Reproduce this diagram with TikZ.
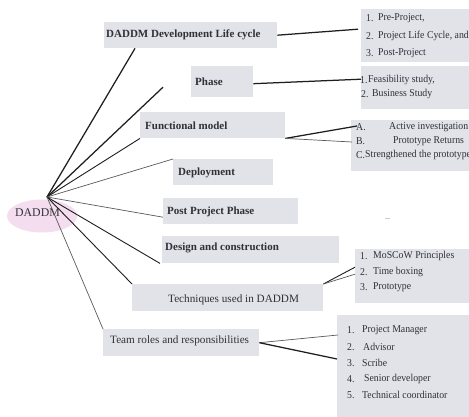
\documentclass[tikz,border=0pt]{standalone}
\usepackage{fontspec}
\setmainfont{Liberation Serif}
\newfontfamily\listfont{Liberation Serif}[FakeStretch=0.93]
\usetikzlibrary{calc,shapes.geometric}
\definecolor{boxgray}{RGB}{226,227,232}
\definecolor{hubpink}{RGB}{243,221,238}
\definecolor{txtgray}{RGB}{48,48,54}
\definecolor{linedark}{RGB}{30,30,30}
\definecolor{linegray}{RGB}{90,90,90}
\tikzset{
  box/.style={fill=boxgray, draw=none, inner sep=0pt, anchor=north west},
  ltext/.style={anchor=west, inner sep=0pt, text=txtgray, font=\fontsize{11}{13}\selectfont\bfseries},
  rtext/.style={anchor=west, inner sep=0pt, text=txtgray, font=\fontsize{11.2}{13}\selectfont},
  itext/.style={anchor=west, inner sep=0pt, text=txtgray, font=\listfont\fontsize{10.5}{12}\selectfont},
  conn/.style={draw=linedark, line width=0.9pt},
  thick conn/.style={draw=linedark, line width=1.25pt},
  thin conn/.style={draw=linegray, line width=0.7pt}
}
\begin{document}
\begin{tikzpicture}[x=1pt,y=-1pt]
\useasboundingbox (0,0) rectangle (469,417);
\clip (0,0) rectangle (469,417);
\fill[white] (0,0) rectangle (469,417);

% hub
\node[ellipse, fill=hubpink, minimum width=70pt, minimum height=33pt, inner sep=0pt] (root) at (42,216) {};
\node[rtext, font=\fontsize{11.8}{13}\selectfont] (roottxt) at (15,213) {DADDM};
\coordinate (hub) at (47,197);

% left boxes
\node[box, minimum width=173pt, minimum height=26pt] (dev) at (104,22) {};
\node[ltext] (devt) at (106,35) {DADDM Development Life cycle};
\node[box, minimum width=62pt, minimum height=31pt] (phase) at (191,66) {};
\node[ltext] (phaset) at (195,82) {Phase};
\node[box, minimum width=145pt, minimum height=26pt] (fm) at (140,112) {};
\node[ltext] (fmt) at (145,126) {Functional model};
\node[box, minimum width=100pt, minimum height=26pt] (dep) at (173,159) {};
\node[ltext] (dept) at (178,172.5) {Deployment};
\node[box, minimum width=135pt, minimum height=26pt] (pp) at (163,198) {};
\node[ltext] (ppt) at (167,212) {Post Project Phase};
\node[box, minimum width=177pt, minimum height=27pt] (ds) at (162,236) {};
\node[ltext] (dst) at (165,248) {Design and construction};
\node[box, minimum width=191pt, minimum height=27pt] (tech) at (132,284) {};
\node[rtext] (techt) at (168,300) {Techniques used in DADDM};
\node[box, minimum width=156pt, minimum height=27pt] (team) at (103,329) {};
\node[rtext] (teamt) at (110,341) {Team roles and responsibilities};

% right boxes
\node[box, minimum width=120pt, minimum height=53pt] (l1) at (361,9) {};
\node[itext] (l1a) at (366,18) {1.}; \node[itext] (l1at) at (378,18) {Pre-Project,};
\node[itext] (l1b) at (366,36) {2.}; \node[itext] (l1bt) at (378,36) {Project Life Cycle, and};
\node[itext] (l1c) at (366,53) {3.}; \node[itext] (l1ct) at (378,53) {Post-Project};

\node[box, minimum width=120pt, minimum height=43pt] (l2) at (361,66) {};
\node[itext] (l2a) at (360,80) {1.}; \node[itext] (l2at) at (368,80) {Feasibility study,};
\node[itext] (l2b) at (361,94) {2.}; \node[itext] (l2bt) at (372,94) {Business Study};

\node[box, minimum width=130pt, minimum height=51pt] (l3) at (351,120) {};
\node[itext] (l3a) at (356,127) {A.}; \node[itext] (l3at) at (389,127) {Active investigation};
\node[itext] (l3b) at (356,141) {B.}; \node[itext] (l3bt) at (393,141) {Prototype Returns};
\node[itext] (l3c) at (356,155) {C.}; \node[itext] (l3ct) at (365,155) {Strengthened the prototype};

\node[box, minimum width=125pt, minimum height=54pt] (l4) at (355,249) {};
\node[itext] (l4a) at (360,256) {1.}; \node[itext] (l4at) at (373,256) {MoSCoW Principles};
\node[itext] (l4b) at (360,272) {2.}; \node[itext] (l4bt) at (373,272) {Time boxing};
\node[itext] (l4c) at (360,287) {3.}; \node[itext] (l4ct) at (373,287) {Prototype};

\node[box, minimum width=140pt, minimum height=110pt] (l5) at (337,315) {};
\node[itext] (l5a) at (347,330) {1.}; \node[itext] (l5at) at (362,330) {Project Manager};
\node[itext] (l5b) at (347,347) {2.}; \node[itext] (l5bt) at (363,347) {Advisor};
\node[itext] (l5c) at (347,363) {3.}; \node[itext] (l5ct) at (362,363) {Scribe};
\node[itext] (l5d) at (347,379) {4.}; \node[itext] (l5dt) at (364,379) {Senior developer};
\node[itext] (l5e) at (347,395) {5.}; \node[itext] (l5et) at (362,395) {Technical coordinator};

% hub connectors
\draw[thick conn] (hub) -- ([xshift=31pt]dev.south west);
\draw[thick conn] (hub) -- ([xshift=-28pt,yshift=-5.5pt]phase.west);
\draw[conn] (hub) -- (fm.south west);
\draw[thin conn] (hub) -- (dep.north west);
\draw[thin conn] (hub) -- ([yshift=-6pt]pp.west);
\draw[conn] (hub) -- ([xshift=-2pt]ds.south west);
\draw[conn] (hub) -- (tech.north west);
\draw[thin conn] (hub) -- (team.north west);

% right connectors
\draw[thick conn] (dev.east) -- ([xshift=-3pt,yshift=6.5pt]l1.west);
\draw[thick conn] ([yshift=-2pt]phase.east) -- ([yshift=8.5pt]l2.west);
\draw[thick conn] (fm.south east) -- ([xshift=6pt,yshift=-6pt]l3.north west);
\draw[thin conn] (fm.south east) -- ([xshift=1pt,yshift=-22pt]l3.north west);
\draw[conn] (tech.north east) -- ([yshift=9pt]l4.west);
\draw[thin conn] (tech.north east) -- ([yshift=2pt]l4.west);
\draw[thin conn] (team.east) -- ([xshift=1pt,yshift=-20pt]l5.north west);
\draw[thick conn] (team.east) -- ([yshift=-44pt]l5.north west);

% small stray mark
\coordinate (m1) at (385,218);
\coordinate (m2) at (390,218);
\draw[gray!40, line width=0.6pt] (m1) -- (m2);
\end{tikzpicture}
\end{document}
